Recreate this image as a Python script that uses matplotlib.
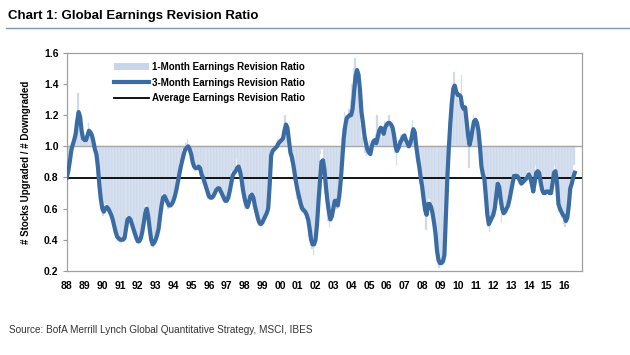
import matplotlib
matplotlib.use("Agg")
import matplotlib.pyplot as plt
import numpy as np
from matplotlib.patches import Patch
from matplotlib.lines import Line2D

plt.rcParams['font.family'] = ['Liberation Sans', 'DejaVu Sans']

# monthly data, Jan 1988 .. Aug 2016
start_year = 1988
three_month = [
    0.80, 0.84, 0.90, 0.97, 1.01, 1.04, 1.08, 1.16, 1.22, 1.19, 1.10, 1.05,  # 88
    1.04, 1.04, 1.07, 1.10, 1.09, 1.07, 1.03, 0.98, 0.95, 0.87, 0.75, 0.66,  # 89
    0.60, 0.58, 0.60, 0.61, 0.60, 0.58, 0.56, 0.53, 0.49, 0.45, 0.42, 0.41,  # 90
    0.40, 0.40, 0.40, 0.41, 0.47, 0.53, 0.54, 0.53, 0.50, 0.47, 0.44, 0.41,  # 91
    0.39, 0.39, 0.41, 0.45, 0.51, 0.57, 0.60, 0.55, 0.47, 0.40, 0.37, 0.38,  # 92
    0.40, 0.43, 0.47, 0.55, 0.62, 0.67, 0.68, 0.66, 0.64, 0.62, 0.62, 0.63,  # 93
    0.65, 0.68, 0.72, 0.77, 0.82, 0.87, 0.91, 0.95, 0.98, 0.99, 1.00, 0.98,  # 94
    0.95, 0.90, 0.87, 0.86, 0.86, 0.87, 0.86, 0.82, 0.80, 0.77, 0.74, 0.71,  # 95
    0.68, 0.67, 0.67, 0.68, 0.70, 0.72, 0.73, 0.73, 0.71, 0.69, 0.67, 0.65,  # 96
    0.65, 0.67, 0.71, 0.76, 0.81, 0.83, 0.84, 0.86, 0.87, 0.84, 0.79, 0.72,  # 97
    0.67, 0.63, 0.61, 0.64, 0.68, 0.69, 0.67, 0.62, 0.58, 0.54, 0.51, 0.50,  # 98
    0.51, 0.53, 0.55, 0.57, 0.60, 0.75, 0.94, 0.97, 0.98, 0.99, 1.00, 1.02,  # 99
    1.03, 1.04, 1.05, 1.10, 1.14, 1.12, 1.04, 0.96, 0.93, 0.88, 0.82, 0.76,  # 00
    0.71, 0.67, 0.63, 0.60, 0.59, 0.58, 0.56, 0.53, 0.47, 0.40, 0.37, 0.37,  # 01
    0.40, 0.50, 0.65, 0.78, 0.90, 0.91, 0.85, 0.74, 0.65, 0.58, 0.53, 0.55,  # 02
    0.60, 0.65, 0.65, 0.62, 0.68, 0.78, 0.91, 1.05, 1.13, 1.18, 1.19, 1.20,  # 03
    1.20, 1.24, 1.35, 1.45, 1.49, 1.46, 1.36, 1.22, 1.15, 1.07, 1.02, 0.98,  # 04
    0.96, 0.95, 1.00, 1.03, 1.04, 1.02, 1.06, 1.10, 1.12, 1.11, 1.08, 1.12,  # 05
    1.14, 1.15, 1.15, 1.14, 1.12, 1.07, 1.00, 0.97, 0.99, 1.02, 1.04, 1.06,  # 06
    1.07, 1.04, 1.02, 1.00, 1.02, 1.06, 1.11, 1.09, 1.00, 0.93, 0.87, 0.80,  # 07
    0.74, 0.66, 0.59, 0.56, 0.63, 0.63, 0.61, 0.57, 0.51, 0.44, 0.33, 0.27,  # 08
    0.25, 0.25, 0.26, 0.30, 0.55, 0.80, 0.99, 1.15, 1.28, 1.37, 1.39, 1.35,  # 09
    1.33, 1.33, 1.32, 1.26, 1.24, 1.25, 1.16, 1.07, 1.01, 1.05, 1.11, 1.16,  # 10
    1.17, 1.15, 1.10, 1.00, 0.87, 0.82, 0.79, 0.68, 0.56, 0.50, 0.52, 0.54,  # 11
    0.56, 0.60, 0.68, 0.76, 0.74, 0.66, 0.60, 0.57, 0.58, 0.60, 0.62, 0.66,  # 12
    0.71, 0.76, 0.81, 0.81, 0.81, 0.80, 0.78, 0.76, 0.77, 0.78, 0.79, 0.80,  # 13
    0.82, 0.80, 0.76, 0.71, 0.77, 0.83, 0.84, 0.83, 0.77, 0.72, 0.70, 0.70,  # 14
    0.71, 0.71, 0.70, 0.70, 0.76, 0.83, 0.84, 0.77, 0.63, 0.60, 0.58, 0.56,  # 15
    0.55, 0.52, 0.54, 0.62, 0.73, 0.76, 0.80, 0.83,                          # 16
]
one_month = [
    0.78, 0.88, 0.95, 1.02, 1.03, 1.08, 1.15, 1.34, 1.20, 1.12, 1.03, 1.04,
    1.03, 1.08, 1.15, 1.08, 1.06, 1.04, 0.98, 0.93, 0.88, 0.76, 0.66, 0.58,
    0.55, 0.61, 0.63, 0.60, 0.57, 0.56, 0.53, 0.50, 0.44, 0.40, 0.39, 0.40,
    0.38, 0.41, 0.43, 0.48, 0.55, 0.55, 0.52, 0.50, 0.46, 0.43, 0.40, 0.38,
    0.37, 0.42, 0.47, 0.54, 0.60, 0.62, 0.55, 0.46, 0.38, 0.36, 0.35, 0.40,
    0.43, 0.47, 0.56, 0.64, 0.70, 0.69, 0.65, 0.62, 0.60, 0.61, 0.64, 0.66,
    0.70, 0.74, 0.80, 0.85, 0.90, 0.93, 0.98, 1.00, 1.02, 1.05, 0.97, 0.93,
    0.88, 0.85, 0.84, 0.88, 0.87, 0.85, 0.80, 0.78, 0.75, 0.71, 0.68, 0.66,
    0.66, 0.67, 0.69, 0.71, 0.74, 0.74, 0.72, 0.70, 0.67, 0.65, 0.64, 0.66,
    0.69, 0.74, 0.80, 0.84, 0.85, 0.86, 0.92, 0.86, 0.82, 0.74, 0.68, 0.64,
    0.60, 0.60, 0.65, 0.70, 0.70, 0.65, 0.60, 0.56, 0.52, 0.49, 0.50, 0.52,
    0.54, 0.56, 0.58, 0.62, 0.80, 0.97, 0.98, 0.99, 1.00, 1.02, 1.05, 1.04,
    1.05, 1.06, 1.12, 1.20, 1.12, 1.00, 0.94, 0.90, 0.86, 0.78, 0.72, 0.66,
    0.62, 0.60, 0.58, 0.57, 0.56, 0.53, 0.48, 0.42, 0.36, 0.34, 0.30, 0.42,
    0.55, 0.72, 0.85, 0.95, 0.98, 0.84, 0.70, 0.60, 0.52, 0.48, 0.56, 0.62,
    0.66, 0.62, 0.60, 0.70, 0.85, 1.00, 1.12, 1.22, 1.20, 1.20, 1.24, 1.30,
    1.40, 1.50, 1.57, 1.48, 1.36, 1.24, 1.14, 1.06, 1.00, 0.96, 0.94, 1.00,
    1.04, 1.02, 1.05, 1.02, 1.08, 1.20, 1.12, 1.10, 1.06, 1.12, 1.16, 1.15,
    1.16, 1.20, 1.14, 1.10, 1.04, 0.96, 0.88, 1.00, 1.04, 1.07, 1.08, 1.05,
    1.02, 1.00, 0.99, 1.04, 1.10, 1.17, 1.10, 0.98, 0.90, 0.84, 0.76, 0.68,
    0.62, 0.55, 0.46, 0.62, 0.66, 0.60, 0.55, 0.48, 0.40, 0.30, 0.24, 0.22,
    0.24, 0.27, 0.32, 0.55, 0.82, 1.00, 1.18, 1.30, 1.40, 1.48, 1.38, 1.32,
    1.30, 1.33, 1.46, 1.24, 1.22, 1.18, 1.06, 0.86, 1.08, 1.12, 1.20, 1.18,
    1.14, 1.10, 1.00, 0.88, 0.80, 0.73, 0.66, 0.56, 0.48, 0.45, 0.55, 0.58,
    0.62, 0.70, 0.78, 0.74, 0.66, 0.51, 0.56, 0.60, 0.62, 0.64, 0.70, 0.76,
    0.80, 0.83, 0.82, 0.80, 0.78, 0.76, 0.75, 0.78, 0.80, 0.80, 0.82, 0.84,
    0.80, 0.76, 0.70, 0.76, 0.88, 0.85, 0.82, 0.76, 0.70, 0.69, 0.70, 0.72,
    0.70, 0.69, 0.72, 0.78, 0.84, 0.88, 0.78, 0.64, 0.58, 0.57, 0.54, 0.50,
    0.48, 0.54, 0.62, 0.74, 0.78, 0.82, 0.88, 1.00,
]
average_ratio = 0.795
tick_years = list(range(1988, 2017))
tick_labels = ["%02d" % (y % 100) for y in tick_years]

t = start_year + np.arange(len(three_month)) / 12.0
one = np.array(one_month)

fig = plt.figure(figsize=(6.3, 3.55), dpi=100)
ax = fig.add_axes([0.106, 0.237, 0.818, 0.614])

bar_col = "#c9d6ea"
line_col = "#3a6ca3"
ax.bar(t, one - 1.0, bottom=1.0, width=1 / 12, color=bar_col,
       align="edge", edgecolor="#e4eaf4", linewidth=0.3, zorder=1)
ax.axhline(1.0, color="#a6a6a6", lw=1, zorder=2)
ax.axhline(average_ratio, color="black", lw=1.3, zorder=3)
ax.plot(t, three_month, color=line_col, lw=3, solid_joinstyle="round", zorder=4)

ax.set_xlim(1988, 2017)
ax.set_ylim(0.2, 1.6)
ax.set_yticks(np.arange(0.2, 1.61, 0.2))
ax.set_yticklabels(["%.1f" % v for v in np.arange(0.2, 1.61, 0.2)])
ax.set_xticks(tick_years)
ax.set_xticklabels(tick_labels)
ax.tick_params(axis="x", length=0, pad=7, labelsize=7.5)
ax.tick_params(axis="y", length=3, color="#999999", labelsize=7.5, pad=3)
for lab in ax.get_xticklabels() + ax.get_yticklabels():
    lab.set_fontweight("bold")
for s in ax.spines.values():
    s.set_color("#a0a0a0")
    s.set_linewidth(0.9)

ax.set_ylabel("# Stocks Upgraded / # Downgraded", fontsize=7, fontweight="bold",
              labelpad=9)

handles = [
    Patch(facecolor=bar_col, edgecolor="none"),
    Line2D([], [], color=line_col, lw=3),
    Line2D([], [], color="black", lw=1.3),
]
labels = ["1-Month Earnings Revision Ratio", "3-Month Earnings Revision Ratio",
          "Average Earnings Revision Ratio"]
leg = ax.legend(handles, labels, loc="upper left", bbox_to_anchor=(0.085, 0.975),
                frameon=False, fontsize=7, handlelength=3.6, handletextpad=0.25,
                labelspacing=0.55, borderaxespad=0)
for txt in leg.get_texts():
    txt.set_fontweight("bold")

fig.text(0.013, 0.955, "Chart 1: Global Earnings Revision Ratio", fontsize=9.5,
         fontweight="bold", va="center", ha="left")
fig.add_artist(Line2D([0.01, 1.0], [0.92, 0.92], color="#7f93b3", lw=1,
                      transform=fig.transFigure))
fig.text(0.014, 0.07, "Source: BofA Merrill Lynch Global Quantitative Strategy, MSCI, IBES",
         fontsize=7.2, color="#333333", va="center", ha="left")

fig.savefig("out.png", dpi=100)
plt.close(fig)
